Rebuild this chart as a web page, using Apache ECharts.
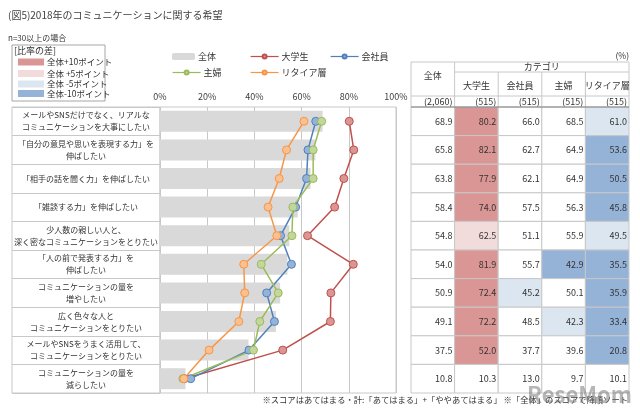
<!DOCTYPE html>
<html>
<head>
<meta charset="utf-8">
<script src="https://cdn.jsdelivr.net/npm/echarts@6/dist/echarts.min.js"></script>
<style>
html,body{margin:0;padding:0;background:#fff;}
#chart{width:640px;height:412px;}
</style>
</head>
<body>
<div id="chart"></div>
<script>
// ---------- data ----------
const categories = [
  'メールやSNSだけでなく、リアルな\nコミュニケーションを大事にしたい',
  '「自分の意見や思いを表現する力」を\n伸ばしたい',
  '「相手の話を聞く力」を伸ばしたい',
  '「雑談する力」を伸ばしたい',
  '少人数の親しい人と、\n深く密なコミュニケーションをとりたい',
  '「人の前で発表する力」を\n伸ばしたい',
  'コミュニケーションの量を\n増やしたい',
  '広く色々な人と\nコミュニケーションをとりたい',
  'メールやSNSをうまく活用して、\nコミュニケーションをとりたい',
  'コミュニケーションの量を\n減らしたい'
];
const seriesNames = ['全体', '大学生', '会社員', '主婦', 'リタイア層'];
const totalAll   = [68.9, 65.8, 63.8, 58.4, 54.8, 54.0, 50.9, 49.1, 37.5, 10.8];
const univ       = [80.2, 82.1, 77.9, 74.0, 62.5, 81.9, 72.4, 72.2, 52.0, 10.3];
const office     = [66.0, 62.7, 62.1, 57.5, 51.1, 55.7, 45.2, 48.5, 37.7, 13.0];
const housewife  = [68.5, 64.9, 64.9, 56.3, 55.9, 42.9, 50.1, 42.3, 39.6, 9.7];
const retired    = [61.0, 53.6, 50.5, 45.8, 49.5, 35.5, 35.9, 33.4, 20.8, 10.1];
const sampleSizes = ['(2,060)', '(515)', '(515)', '(515)', '(515)'];
const axisTicks = [0, 20, 40, 60, 80, 100];
const diffLegend = ['全体+10ポイント', '全体 +5ポイント', '全体 -5ポイント', '全体-10ポイント'];

// ---------- styles ----------
const FONT = '"Noto Sans CJK JP", "Noto Sans", sans-serif';
const TXT = '#333333';
const GRID_C = '#c8c8c8';
const diffColors = ['#DA9694', '#F2DCDB', '#DCE6F1', '#95B3D7'];
const lineColors = {'大学生': ['#C0504D', '#D99694'], '会社員': ['#4F81BD', '#95B3D7'], '主婦': ['#9BBB59', '#C3D69B'], 'リタイア層': ['#F79646', '#FAC090']};

const plot = {left: 160, top: 107, width: 236, height: 286};
const box = {left: 12, width: 148};
const tbl = {x0: 411, x1: 629, yTop: 62, yCat: 72, yName: 96, yN: 107};
const colW = (tbl.x1 - tbl.x0) / 5;

const tableCols = [totalAll, univ, office, housewife, retired];
const tableData = [];
tableCols.forEach((arr, c) => arr.forEach((v, r) => tableData.push([c, r, v, v - totalAll[r]])));

function diffColor(c, d) {
  if (c === 0) return '#ffffff';
  if (d >= 10) return diffColors[0];
  if (d >= 5) return diffColors[1];
  if (d <= -10) return diffColors[3];
  if (d <= -5) return diffColors[2];
  return '#ffffff';
}

// ---------- graphic (headers, legends boxes, notes) ----------
const g = [];
function line(x1, y1, x2, y2, color, w) {
  g.push({type: 'line', shape: {x1, y1, x2, y2}, style: {stroke: color || GRID_C, lineWidth: w || 1}, silent: true});
}
function text(x, y, t, size, align, color) {
  g.push({type: 'text', x, y, style: {text: t, font: size + 'px ' + FONT, fill: color || TXT, align: align || 'left', verticalAlign: 'middle'}, silent: true});
}
// table header
line(tbl.x0, tbl.yTop, tbl.x1, tbl.yTop);
line(tbl.x0 + colW, tbl.yCat, tbl.x1, tbl.yCat);
line(tbl.x0, tbl.yName, tbl.x1, tbl.yName);
line(tbl.x0, tbl.yTop, tbl.x0, tbl.yN);
line(tbl.x1, tbl.yTop, tbl.x1, tbl.yN);
line(tbl.x0 + colW, tbl.yTop, tbl.x0 + colW, tbl.yN);
for (let i = 2; i < 5; i++) line(tbl.x0 + colW * i, tbl.yCat, tbl.x0 + colW * i, tbl.yN);
text(tbl.x0 + colW / 2, 76, seriesNames[0], 9, 'center');
text(tbl.x0 + colW * 3, 67, 'カテゴリ', 9, 'center');
for (let i = 1; i < 5; i++) text(tbl.x0 + colW * (i + 0.5), 86, seriesNames[i], 9, 'center');
for (let i = 0; i < 5; i++) text(tbl.x0 + colW * (i + 1) - 2, 102, sampleSizes[i], 9, 'right');
text(tbl.x1, 56, '(%)', 8.5, 'right');
// diff legend box
g.push({type: 'rect', shape: {x: 12, y: 45, width: 93, height: 56}, style: {fill: 'none', stroke: '#a6a6a6', lineWidth: 1}, silent: true});
text(14, 51, '[比率の差]', 9);
const swY = [62, 73.5, 84, 93.5];
for (let i = 0; i < 4; i++) {
  g.push({type: 'rect', shape: {x: 18, y: swY[i] - 3.5, width: 26, height: 7}, style: {fill: diffColors[i]}, silent: true});
  text(47, swY[i], diffLegend[i], 8.5);
}
text(8, 38, 'n=30以上の場合', 8);
text(628, 400, '※スコアはあてはまる・計:「あてはまる」+「ややあてはまる」 ※「全体」のスコアで降順ソート', 8.3, 'right');
// watermark
g.push({type: 'text', x: 632, y: 395, style: {text: 'ReseMom', font: 'bold 22px ' + FONT, fill: 'rgba(110,110,110,0.5)', align: 'right', verticalAlign: 'middle'}, silent: true, z: 100});

// ---------- series ----------
function lineSeries(name, data) {
  return {
    name, type: 'line', data, xAxisIndex: 0, yAxisIndex: 0,
    symbol: 'circle', symbolSize: 8, z: 5,
    lineStyle: {color: lineColors[name][0], width: 1.5},
    itemStyle: {color: lineColors[name][1], borderColor: lineColors[name][0], borderWidth: 1},
    emphasis: {disabled: true}
  };
}
const legendPos = [[172, 56], [250, 56], [330, 56], [172, 72], [250, 72]];

const option = {
  animation: false,
  textStyle: {fontFamily: FONT},
  title: {text: '(図5)2018年のコミュニケーションに関する希望', left: 3, top: 5,
    textStyle: {fontSize: 10, fontWeight: 'normal', color: '#404040', fontFamily: FONT}},
  legend: seriesNames.map((n, i) => ({
    data: [n], left: legendPos[i][0], top: legendPos[i][1] - 4,
    itemWidth: i === 0 ? 23 : 28, itemHeight: i === 0 ? 7 : 5, itemGap: 4,
    lineStyle: {width: 1.2},
    textStyle: {fontSize: 9, color: TXT, fontFamily: FONT, padding: [0, 0, 0, -2]},
    selectedMode: false, padding: 0
  })),
  grid: [
    {left: plot.left, top: plot.top, width: plot.width, height: plot.height, show: true, borderColor: GRID_C, borderWidth: 1, containLabel: false},
    {left: box.left, top: plot.top, width: box.width, height: plot.height, show: true, borderColor: GRID_C, borderWidth: 1, containLabel: false},
    {left: tbl.x0, top: plot.top, width: tbl.x1 - tbl.x0, height: plot.height, containLabel: false}
  ],
  xAxis: [
    {type: 'value', gridIndex: 0, position: 'top', min: axisTicks[0], max: axisTicks[axisTicks.length - 1], interval: 20,
      axisLine: {show: false}, axisTick: {show: false},
      axisLabel: {formatter: '{value}%', fontSize: 9, color: '#404040', margin: 6, fontFamily: FONT},
      splitLine: {show: true, lineStyle: {color: GRID_C, width: 1}}},
    {type: 'value', gridIndex: 1, show: false, min: 0, max: 1},
    {type: 'category', gridIndex: 2, data: seriesNames, show: false}
  ],
  yAxis: [
    {type: 'category', gridIndex: 0, data: categories, inverse: true,
      axisLine: {show: false}, axisTick: {show: false},
      axisLabel: {margin: 74, align: 'center', fontSize: 8, lineHeight: 12, color: TXT, fontFamily: FONT, interval: 0}},
    {type: 'category', gridIndex: 1, data: categories, inverse: true,
      axisLine: {show: false}, axisTick: {show: false}, axisLabel: {show: false},
      splitLine: {show: true, interval: 0, lineStyle: {color: GRID_C, width: 1}}},
    {type: 'category', gridIndex: 2, data: categories, inverse: true, show: false}
  ],
  series: [
    {name: '全体', type: 'bar', data: totalAll, xAxisIndex: 0, yAxisIndex: 0, barWidth: 21,
      itemStyle: {color: '#D9D9D9'}, emphasis: {disabled: true}, z: 2},
    lineSeries('大学生', univ),
    lineSeries('会社員', office),
    lineSeries('主婦', housewife),
    lineSeries('リタイア層', retired),
    {name: 'table', type: 'custom', xAxisIndex: 2, yAxisIndex: 2, data: tableData, silent: true,
      renderItem: function (params, api) {
        const c = api.value(0), r = api.value(1), v = api.value(2), d = api.value(3);
        const p = api.coord([c, r]);
        const s = api.size([1, 1]);
        const x = p[0] - s[0] / 2, y = p[1] - s[1] / 2;
        return {type: 'group', children: [
          {type: 'rect', shape: {x, y, width: s[0], height: s[1]}, style: {fill: diffColor(c, d), stroke: GRID_C, lineWidth: 1}},
          {type: 'text', style: {text: v.toFixed(1), x: x + s[0] - 2, y: p[1], align: 'right', verticalAlign: 'middle', font: '9px ' + FONT, fill: TXT}}
        ]};
      }}
  ],
  graphic: g
};
option.graphic.push({type: 'line', shape: {x1: tbl.x0, y1: tbl.yN, x2: tbl.x1, y2: tbl.yN}, style: {stroke: '#808080', lineWidth: 1}, silent: true, z: 50});

const chart = echarts.init(document.getElementById('chart'), null, {renderer: 'canvas'});
chart.setOption(option);
</script>
</body>
</html>
